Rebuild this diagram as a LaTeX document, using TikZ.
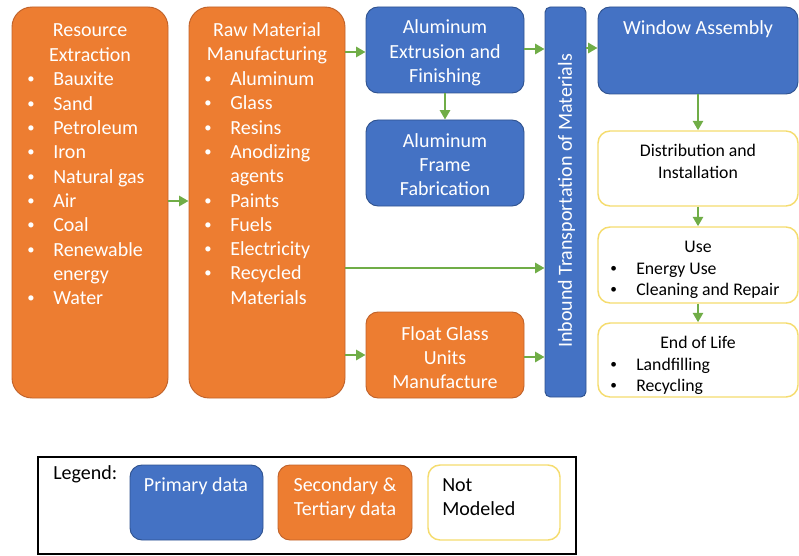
\documentclass[tikz,border=0pt]{standalone}
\usepackage{fontspec}
\setmainfont{Carlito}
\usetikzlibrary{fit,arrows.meta}
\definecolor{pblue}{HTML}{4472C4}
\definecolor{pbluedk}{HTML}{2F528F}
\definecolor{porange}{HTML}{ED7D31}
\definecolor{porangedk}{HTML}{C0622A}
\definecolor{pgreen}{HTML}{70AD47}
\definecolor{pyellow}{HTML}{F5DC6E}
\begin{document}
\begin{tikzpicture}[x=0.75pt,y=-0.75pt,
  bluebox/.style={fill=pblue,draw=pbluedk,line width=0.7pt,rounded corners=9pt,inner sep=0pt},
  orbox/.style={fill=porange,draw=porangedk,line width=0.7pt,rounded corners=9pt,inner sep=0pt},
  wbox/.style={fill=white,draw=pyellow,line width=1.1pt,rounded corners=9pt,inner sep=0pt},
  wtxt/.style={text=white,font=\fontsize{15pt}{18.3pt}\selectfont,inner sep=0pt},
  ktxt/.style={text=black,font=\fontsize{13.3pt}{16pt}\selectfont,inner sep=0pt},
  ltxt/.style={text=black,font=\fontsize{15pt}{18.3pt}\selectfont,inner sep=0pt},
  wbul/.style={text=white,font=\fontsize{11pt}{11pt}\selectfont,inner sep=0pt},
  kbul/.style={text=black,font=\fontsize{10pt}{10pt}\selectfont,inner sep=0pt},
  arr/.style={draw=pgreen,line width=2pt,-{Triangle[length=7pt,width=7.5pt]}},
]
\useasboundingbox (0,0) rectangle (799,556);

% boxes
\node[orbox,rounded corners=15pt,fit={(12,7) (168,398)}] (re) {};
\node[orbox,rounded corners=15pt,fit={(189,7) (345,398)}] (rm) {};
\node[bluebox,fit={(366,7) (524,93)}] (ae) {};
\node[bluebox,fit={(366,120) (524,206)}] (af) {};
\node[orbox,fit={(366,312) (524,398)}] (fg) {};
\node[bluebox,rounded corners=4pt,fit={(545,7) (586,397)}] (ib) {};
\node[bluebox,fit={(598,7) (798,94)}] (wa) {};
\node[wbox,fit={(598,131) (798,206)}] (di) {};
\node[wbox,fit={(598,227) (798,303)}] (us) {};
\node[wbox,fit={(598,323) (798,397)}] (eol) {};

% Resource extraction
\node[wtxt,anchor=base] (ret1) at (90,37) {Resource};
\node[wtxt,anchor=base] (ret2) at (90,61.3) {Extraction};
\foreach \b/\t [count=\i] in {1/Bauxite,1/Sand,1/Petroleum,1/Iron,1/Natural gas,1/Air,1/Coal,1/Renewable,0/energy,1/Water}{
  \node[wtxt,anchor=base west] (rei\i) at (53,{86+24.3*(\i-1)}) {\t};
  \ifnum\b=1 \node[wbul,anchor=base west] (reb\i) at (27,{84+24.3*(\i-1)}) {•};\fi
}

% Raw material manufacturing
\node[wtxt,anchor=base] (rmt1) at (267,36.5) {Raw Material};
\node[wtxt,anchor=base] (rmt2) at (267,60.8) {Manufacturing};
\foreach \b/\t [count=\i] in {1/Aluminum,1/Glass,1/Resins,1/Anodizing,0/agents,1/Paints,1/Fuels,1/Electricity,1/Recycled,0/Materials}{
  \node[wtxt,anchor=base west] (rmi\i) at (230,{85.5+24.3*(\i-1)}) {\t};
  \ifnum\b=1 \node[wbul,anchor=base west] (rmb\i) at (204,{83.5+24.3*(\i-1)}) {•};\fi
}

% blue / orange process boxes
\node[wtxt,anchor=base] (aet1) at (445,34) {Aluminum};
\node[wtxt,anchor=base] (aet2) at (445,58.3) {Extrusion and};
\node[wtxt,anchor=base] (aet3) at (445,82.6) {Finishing};
\node[wtxt,anchor=base] (aft1) at (445,147.3) {Aluminum};
\node[wtxt,anchor=base] (aft2) at (445,171.6) {Frame};
\node[wtxt,anchor=base] (aft3) at (445,195.9) {Fabrication};
\node[wtxt,anchor=base] (fgt1) at (445,340) {Float Glass};
\node[wtxt,anchor=base] (fgt2) at (445,364.3) {Units};
\node[wtxt,anchor=base] (fgt3) at (445,388.6) {Manufacture};
\node[wtxt,rotate=90] (ibt) at (566.5,201) {Inbound Transportation of Materials};
\node[wtxt,anchor=base] (wat) at (698,35) {Window Assembly};

% not modeled boxes
\node[ktxt,anchor=base] (dit1) at (698,156.7) {Distribution and};
\node[ktxt,anchor=base] (dit2) at (698,178) {Installation};
\node[ktxt,anchor=base] (ust) at (698,252.3) {Use};
\node[kbul,anchor=base west] (usb1) at (610,272) {•};
\node[ktxt,anchor=base west] (usi1) at (636,274) {Energy Use};
\node[kbul,anchor=base west] (usb2) at (610,293.3) {•};
\node[ktxt,anchor=base west] (usi2) at (636,295.3) {Cleaning and Repair};
\node[ktxt,anchor=base] (eolt) at (698,348.3) {End of Life};
\node[kbul,anchor=base west] (eolb1) at (610,368) {•};
\node[ktxt,anchor=base west] (eoli1) at (636,370) {Landfilling};
\node[kbul,anchor=base west] (eolb2) at (610,389) {•};
\node[ktxt,anchor=base west] (eoli2) at (636,391) {Recycling};

% arrows
\coordinate (y1) at (0,201);
\coordinate (y2) at (0,52);
\coordinate (y3) at (0,49);
\coordinate (y4) at (0,268);
\coordinate (y5) at (0,355);
\coordinate (y6) at (0,357);
\coordinate (y7) at (0,48);
\draw[arr] (re.east |- y1) -- (rm.west |- y1);
\draw[arr] (rm.east |- y2) -- (ae.west |- y2);
\draw[arr] (ae.east |- y3) -- (ib.west |- y3);
\draw[arr] (rm.east |- y4) -- (ib.west |- y4);
\draw[arr] (rm.east |- y5) -- (fg.west |- y5);
\draw[arr] (fg.east |- y6) -- (ib.west |- y6);
\draw[arr] (ib.east |- y7) -- (wa.west |- y7);
\draw[arr] (ae.south) -- (af.north);
\draw[arr] (wa.south) -- (di.north);
\draw[arr] (di.south) -- (us.north);
\draw[arr] (us.south) -- (eol.north);

% legend
\node[draw=black,line width=2.2pt,inner sep=0pt,fit={(38,457) (576,554)}] (leg) {};
\node[bluebox,fit={(130,465) (263,540)}] (lgb) {};
\node[orbox,fit={(278,465) (412,540)}] (lgo) {};
\node[wbox,fit={(428,465) (560,540)}] (lgw) {};
\node[ltxt,anchor=base west] (lgt) at (53,479) {Legend:};
\node[wtxt,anchor=base] (lgbt) at (196,491.7) {Primary data};
\node[wtxt,anchor=base] (lgot1) at (345,491.7) {Secondary \&};
\node[wtxt,anchor=base] (lgot2) at (345,515) {Tertiary data};
\node[ltxt,anchor=base west] (lgwt1) at (442,491.7) {Not};
\node[ltxt,anchor=base west] (lgwt2) at (442,515) {Modeled};
\end{tikzpicture}
\end{document}
